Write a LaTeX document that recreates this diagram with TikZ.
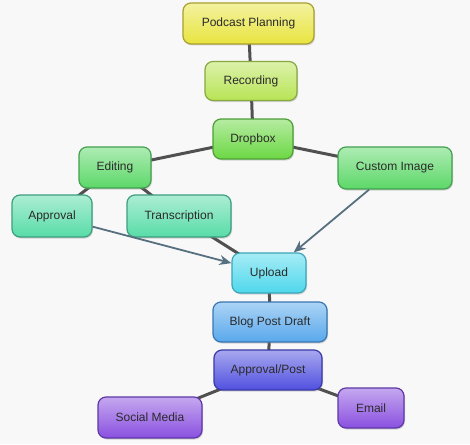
\documentclass[tikz,border=0pt]{standalone}
\usepackage{fontspec}
\setmainfont{Liberation Sans}
\usetikzlibrary{shadows,arrows.meta}
\pgfdeclarelayer{bglayer}
\pgfdeclarelayer{edges}
\pgfsetlayers{bglayer,edges,main}
\definecolor{bg}{HTML}{F8F8F8}
\definecolor{edgecol}{HTML}{505050}
\definecolor{arrcol}{HTML}{56707F}
\definecolor{txt}{HTML}{2A2A2A}
\tikzset{
  box/.style={draw, line width=1.2pt, rounded corners=8pt, inner sep=0pt,
    font=\fontsize{12}{14}\selectfont, text=txt,
    drop shadow={shadow xshift=1pt, shadow yshift=-1.5pt, opacity=0.3}},
  boxc/.style n args={4}{box, minimum width=#1pt, minimum height=#2pt,
    top color=#3!50!white, bottom color=#3, draw=#4},
  link/.style={draw=edgecol, line width=3pt},
  arr/.style={draw=arrcol, line width=1.8pt, -{Stealth[length=12pt,width=10pt]}},
}
\definecolor{cPP}{HTML}{E8E440}\definecolor{bPP}{HTML}{A8A030}
\definecolor{cRec}{HTML}{B8E455}\definecolor{bRec}{HTML}{88A840}
\definecolor{cDrop}{HTML}{6CD844}\definecolor{bDrop}{HTML}{4E9E38}
\definecolor{cEd}{HTML}{5CD868}\definecolor{bEd}{HTML}{44A050}
\definecolor{cApp}{HTML}{58DCA8}\definecolor{bApp}{HTML}{3E9E80}
\definecolor{cUp}{HTML}{4ED8EC}\definecolor{bUp}{HTML}{3CA6B8}
\definecolor{cBlog}{HTML}{58A8EC}\definecolor{bBlog}{HTML}{3A76B0}
\definecolor{cAP}{HTML}{5050E0}\definecolor{bAP}{HTML}{3838A6}
\definecolor{cSM}{HTML}{8A50E0}\definecolor{bSM}{HTML}{5E38A6}
\begin{document}
\begin{tikzpicture}[x=1pt,y=-1pt]
\begin{pgfonlayer}{bglayer}
\fill[bg] (0,0) rectangle (470,444);
\end{pgfonlayer}
\useasboundingbox (0,0) rectangle (470,444);
\node[boxc={131}{41}{cPP}{bPP}] (pp) at (248.5,23.5) {Podcast Planning};
\node[boxc={92}{39}{cRec}{bRec}] (rec) at (251,81) {Recording};
\node[boxc={80}{40}{cDrop}{bDrop}] (drop) at (253,139) {Dropbox};
\node[boxc={72}{41}{cEd}{bEd}] (ed) at (115,167.5) {Editing};
\node[boxc={114}{42}{cEd}{bEd}] (ci) at (395,168) {Custom Image};
\node[boxc={80}{42}{cApp}{bApp}] (app) at (52,216) {Approval};
\node[boxc={104}{42}{cApp}{bApp}] (tr) at (179,216) {Transcription};
\node[boxc={74}{40}{cUp}{bUp}] (up) at (269,273) {Upload};
\node[boxc={114}{40}{cBlog}{bBlog}] (blog) at (270,322) {Blog Post Draft};
\node[boxc={108}{40}{cAP}{bAP}] (ap) at (268,370) {Approval/Post};
\node[boxc={104}{41}{cSM}{bSM}] (sm) at (150,417.5) {Social Media};
\node[boxc={66}{40}{cSM}{bSM}] (em) at (371,408) {Email};
\begin{pgfonlayer}{edges}
\draw[link] (pp.center) -- (rec.center);
\draw[link] (rec.center) -- (drop.center);
\draw[link] (drop.center) -- (ed.center);
\draw[link] (drop.center) -- (ci.center);
\draw[link] (ed.center) -- (app.center);
\draw[link] (ed.center) -- (tr.center);
\draw[link] (tr.center) -- (up.center);
\draw[link] (up.center) -- (blog.center);
\draw[link] (blog.center) -- (ap.center);
\draw[link] (ap.center) -- (sm.center);
\draw[link] (ap.center) -- (em.center);
\end{pgfonlayer}
\draw[arr] (app) -- (up);
\draw[arr] (ci) -- (up);
\end{tikzpicture}
\end{document}
